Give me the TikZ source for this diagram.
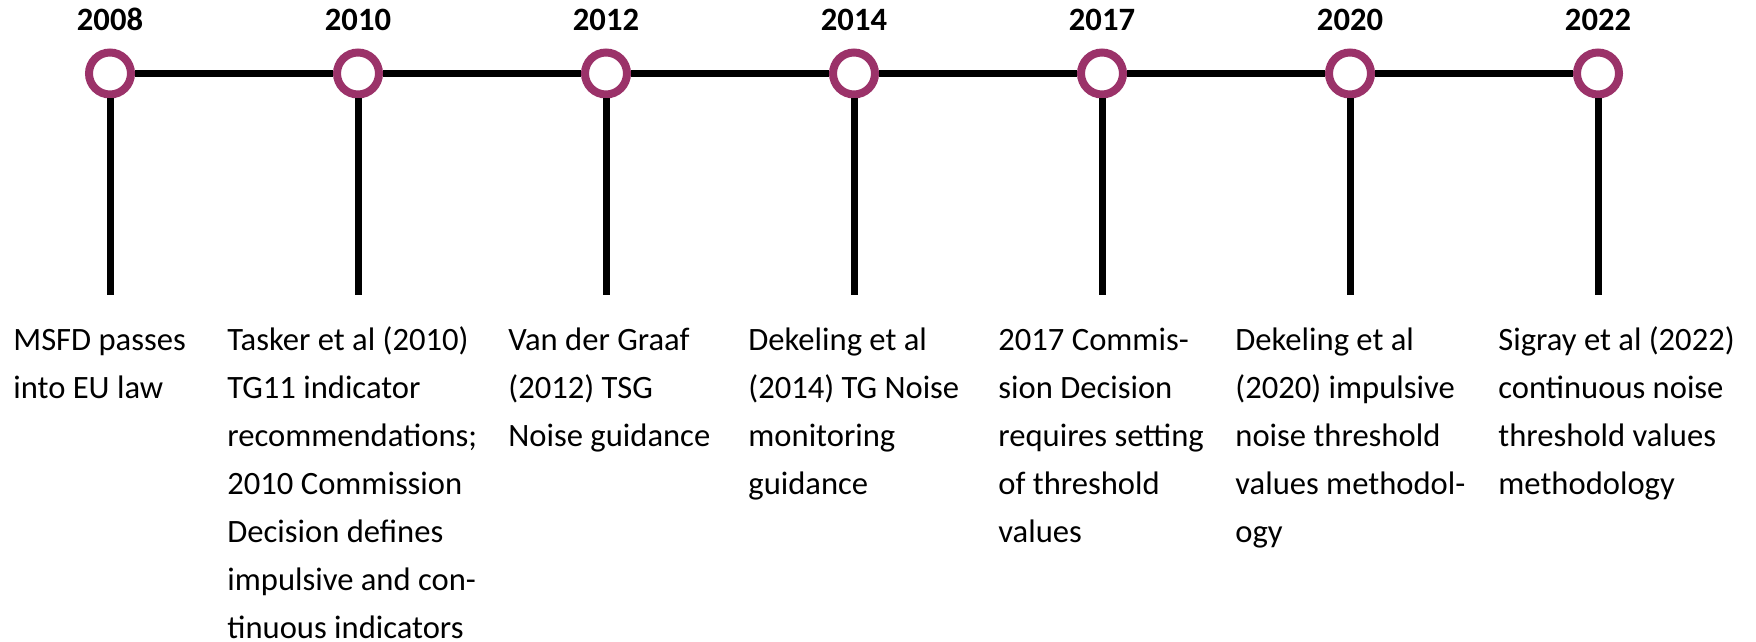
\documentclass[tikz,border=0pt]{standalone}
\usepackage{fontspec}
\setmainfont{Carlito}
\usepackage{tikz}
\usetikzlibrary{positioning}
\definecolor{ringpurple}{RGB}{155,50,105}
\newcommand{\evtext}[1]{\begin{tabular}[t]{@{}l@{}}#1\end{tabular}}
\tikzset{x=0.5pt, y=-0.5pt, node distance=124pt,
  ring/.style={circle, draw=ringpurple, fill=white, line width=4pt, minimum size=21pt, inner sep=0pt},
  yearlabel/.style={anchor=base, inner sep=0pt, font=\fontsize{16.3}{24}\selectfont\bfseries},
  event/.style={anchor=base west, inner sep=0pt, font=\fontsize{16.3}{24}\selectfont},
  axis/.style={line width=3.5pt, black}}

\begin{document}
\begin{tikzpicture}
    \useasboundingbox (0,0) rectangle (1756,642);
    % timeline rings
    \node[ring] (c2008) at (110,73.5) {};
    \node[ring, right of=c2008] (c2010) {};
    \node[ring, right of=c2010] (c2012) {};
    \node[ring, right of=c2012] (c2014) {};
    \node[ring, right of=c2014] (c2017) {};
    \node[ring, right of=c2017] (c2020) {};
    \node[ring, right of=c2020] (c2022) {};
    % years
    \node[yearlabel] (y2008) at (c2008 |- 0,31) {2008};
    \node[yearlabel] (y2010) at (c2010 |- 0,31) {2010};
    \node[yearlabel] (y2012) at (c2012 |- 0,31) {2012};
    \node[yearlabel] (y2014) at (c2014 |- 0,31) {2014};
    \node[yearlabel] (y2017) at (c2017 |- 0,31) {2017};
    \node[yearlabel] (y2020) at (c2020 |- 0,31) {2020};
    \node[yearlabel] (y2022) at (c2022 |- 0,31) {2022};
    % ends of the drop lines
    \coordinate (e2008) at (c2008 |- 0,295);
    \coordinate (e2010) at (c2010 |- 0,295);
    \coordinate (e2012) at (c2012 |- 0,295);
    \coordinate (e2014) at (c2014 |- 0,295);
    \coordinate (e2017) at (c2017 |- 0,295);
    \coordinate (e2020) at (c2020 |- 0,295);
    \coordinate (e2022) at (c2022 |- 0,295);
    % events
    \node[event] (t2008) at (13,350) {\evtext{MSFD passes\\into EU law}};
    \node[event] (t2010) at (227,350) {\evtext{Tasker et al (2010)\\TG11 indicator\\recommendations;\\2010 Commission\\Decision defines\\impulsive and con-\\tinuous indicators}};
    \node[event] (t2012) at (508,350) {\evtext{Van der Graaf\\(2012) TSG\\Noise guidance}};
    \node[event] (t2014) at (748,350) {\evtext{Dekeling et al\\(2014) TG Noise\\monitoring\\guidance}};
    \node[event] (t2017) at (998,350) {\evtext{2017 Commis-\\sion Decision\\requires setting\\of threshold\\values}};
    \node[event] (t2020) at (1235,350) {\evtext{Dekeling et al\\(2020) impulsive\\noise threshold\\values methodol-\\ogy}};
    \node[event] (t2022) at (1498,350) {\evtext{Sigray et al (2022)\\continuous noise\\threshold values\\methodology}};
    \draw[axis] (c2008) -- (c2010) (c2010) -- (c2012) (c2012) -- (c2014)
          (c2014) -- (c2017) (c2017) -- (c2020) (c2020) -- (c2022);
    \draw[axis] (c2008) -- (e2008) (c2010) -- (e2010) (c2012) -- (e2012)
          (c2014) -- (e2014) (c2017) -- (e2017) (c2020) -- (e2020)
          (c2022) -- (e2022);
\end{tikzpicture}
\end{document}
